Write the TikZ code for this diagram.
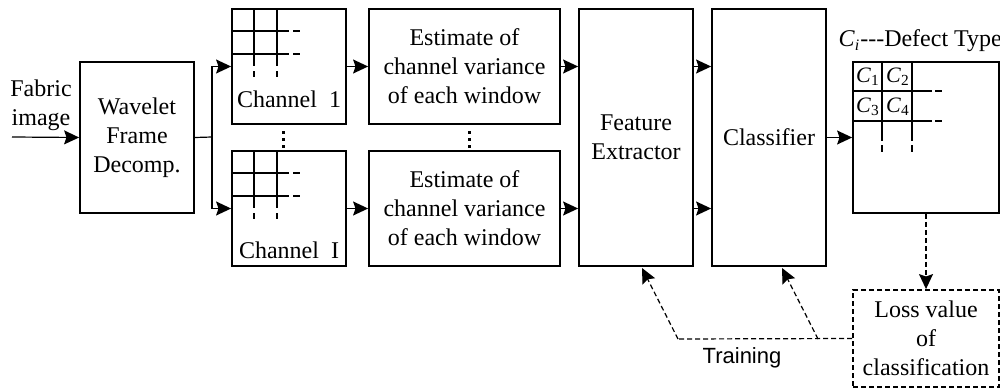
\documentclass[tikz,border=0pt]{standalone}
\usepackage{amsmath}
\usepackage{fontspec}
\setmainfont{Liberation Serif}
\newfontfamily\trainfont{Liberation Sans}
\usetikzlibrary{arrows.meta,calc,positioning}
\tikzset{block/.style={draw, line width=0.9pt, inner sep=1pt, align=center, minimum width=57pt}}
\tikzset{trainline/.style={dash pattern=on 2.5pt off 1.5pt}}
\newcommand{\cls}[1]{\textit{C}\textsubscript{#1}}

\begin{document}
\begin{tikzpicture}[x=0.5pt, y=-0.5pt, >={Stealth[length=7.5pt,width=7pt,inset=1.2pt]}, line width=0.6pt, font=\fontsize{12}{14.5}\selectfont]
\useasboundingbox (0,0) rectangle (1000,390);

% input and decomposition
\node[align=center, inner sep=0pt] (fabric) at (41,105) {Fabric\\image};
\coordinate (src) at (12,137);
\node[block, minimum height=75.5pt] (wave) at (137,137.5) {Wavelet\\Frame\\Decomp.};

% channels
\node[block, minimum height=57.5pt] (ch1) at (289,66.5) {};
\node[block, minimum height=57.5pt] (chI) at (289,208.5) {};
\node[anchor=base, inner sep=0pt] (ch1lbl) at (289,107) {Channel\ \ 1};
\node[anchor=base, inner sep=0pt] (chIlbl) at (289,258) {Channel\ \ I};
\foreach \b in {ch1,chI} {
  \begin{scope}[shift={(\b.north west)}, line width=0.9pt]
    \foreach \d in {23,46} {
      \draw (\d,0) -- (\d,58);
      \draw (\d,63) -- (\d,69);
      \draw (0,\d) -- (58,\d);
      \draw (62,\d) -- (69,\d);
    }
  \end{scope}
}

% variance estimates
\node[block, minimum width=95.5pt, minimum height=57.5pt] (est1) at (464.5,66.5) {Estimate of\\channel variance\\of each window};
\node[block, minimum width=95.5pt, minimum height=57.5pt] (estI) at (464.5,208.5) {Estimate of\\channel variance\\of each window};

% vertical dots between the channel rows
\foreach \x in {283,469}
  \foreach \y in {132,139,146}
    \fill (\x-1.5,\y-1.5) rectangle (\x+1.5,\y+1.5);

\node[block, minimum height=128.5pt] (feat) at (636,137.5) {Feature\\Extractor};
\node[block, minimum height=128.5pt] (cls) at (769,137.5) {Classifier};

% output table of defect types
\node[block, minimum width=73pt, minimum height=75.5pt] (out) at (926,137.5) {};
\node[anchor=base west, inner sep=0pt] (deftype) at (838,47) {\cls{\textit{i}}-{}-{}-Defect Type};
\begin{scope}[shift={(out.north west)}, line width=0.9pt]
  \foreach \d in {30,60} {
    \draw (\d,0) -- (\d,80);
    \draw (\d,84) -- (\d,91);
    \draw (0,\d) -- (80,\d);
    \draw (83,\d) -- (90,\d);
  }
\end{scope}
\begin{scope}[font=\fontsize{11}{12}\selectfont]
\node (c1) at (868,77) {\cls{1}};
\node (c2) at (898,77) {\cls{2}};
\node (c3) at (868,107) {\cls{3}};
\node (c4) at (898,107) {\cls{4}};
\end{scope}

\node[block, trainline, minimum width=73pt, minimum height=48.5pt] (loss) at (926,338.5) {Loss value\\of\\classification};

% forward path
\coordinate (split) at (212,137);
\draw[->] (src) -- (wave.west);
\draw (wave.east) -- (split);
\draw[->] (split) |- (ch1.west);
\draw[->] (split) |- (chI.west);
\draw[->] (ch1.east) -- (est1.west);
\draw[->] (chI.east) -- (estI.west);
\draw[->] (est1.east) -- (est1.east -| feat.west);
\draw[->] (estI.east) -- (estI.east -| feat.west);
\draw[->] (feat.east |- est1.east) -- (cls.west |- est1.east);
\draw[->] (feat.east |- estI.east) -- (cls.west |- estI.east);
\draw[->] (cls.east) -- (out.west);

% training feedback
\coordinate (tr1) at (818,339);
\coordinate (tr2) at (678,339);
\coordinate (featin) at (642,268);
\coordinate (clsin) at (782,268);
\draw[->, trainline] (out.south) -- (loss.north);
\draw[trainline] (loss.west) -- (tr2);
\draw[->, trainline] (tr1) -- (clsin);
\draw[->, trainline] (tr2) -- (featin);
\node[font=\trainfont\fontsize{11}{12}\selectfont] (train) at (742,358) {Training};
\end{tikzpicture}
\end{document}
